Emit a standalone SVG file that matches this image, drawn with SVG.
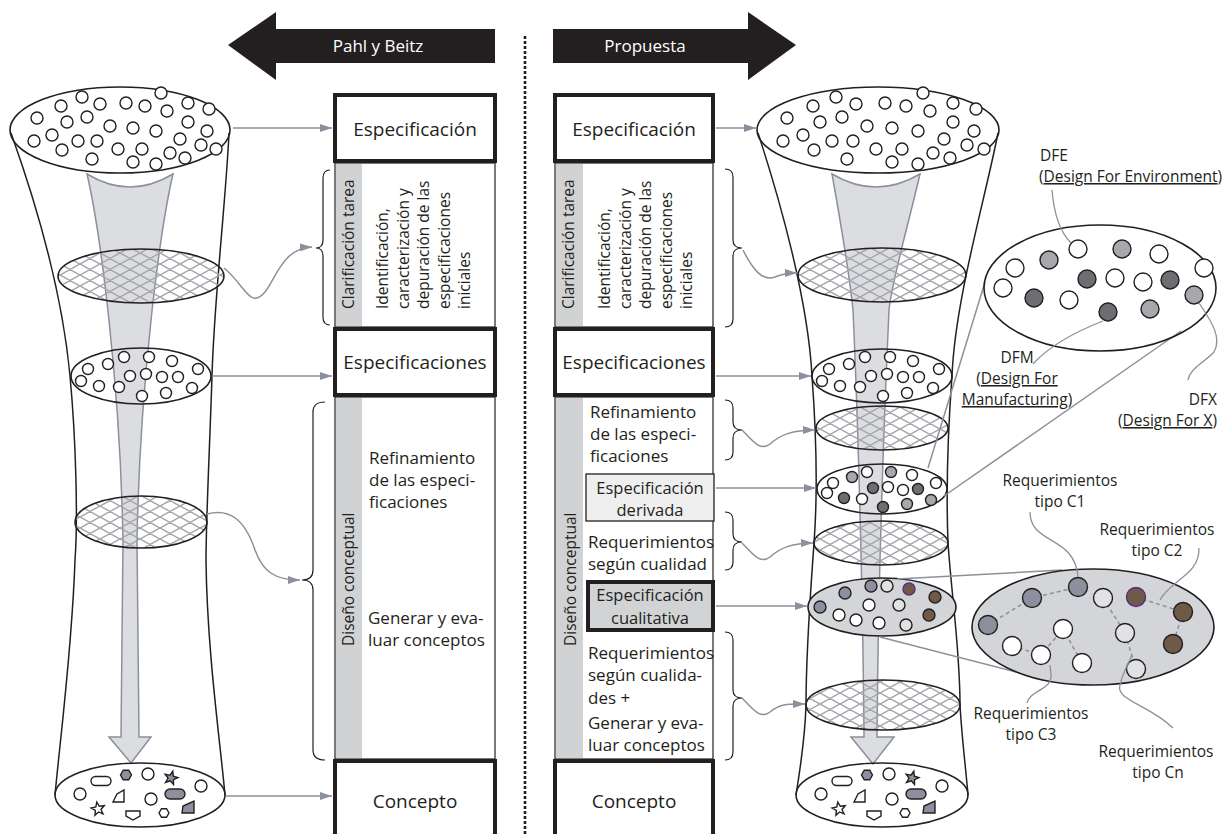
<svg xmlns="http://www.w3.org/2000/svg" xmlns:xlink="http://www.w3.org/1999/xlink" width="1224" height="834" viewBox="0 0 1224 834">
<style>
text{font-family:"Open Sans","Noto Sans","Liberation Sans",sans-serif;fill:#231f20}
.t18{font-size:19px}
.t17{font-size:17px}
.t16{font-size:16.5px}
.t15{font-size:15.5px}
.mid{text-anchor:middle}
.end{text-anchor:end}
.c{fill:#fff;stroke:#231f20;stroke-width:1.4}
.cg{fill:#a7a8ac;stroke:#231f20;stroke-width:1.4}
.cd{fill:#6d6e72;stroke:#231f20;stroke-width:1.4}
.cb{fill:#8c909e;stroke:#231f20;stroke-width:1.4}
.cl{fill:#e1e2e4;stroke:#231f20;stroke-width:1.4}
.cr{fill:#6e5a47;stroke:#231f20;stroke-width:1.4}
.el{fill:none;stroke:#231f20;stroke-width:1.6}
.mesh{fill:url(#mesh);stroke:#231f20;stroke-width:1.6}
.side{fill:none;stroke:#231f20;stroke-width:1.5}
.garrow{fill:#dcdde1;stroke:#8c909c;stroke-width:1.5}
.con{fill:none;stroke:#8c909c;stroke-width:1.5}
.lead{fill:none;stroke:#8c909c;stroke-width:1.3}
.brace{fill:none;stroke:#231f20;stroke-width:1.2}
.thick{fill:#fff;stroke:#231f20;stroke-width:4}
.thin{fill:#fff;stroke:#231f20;stroke-width:1.2}
.strip{fill:#d1d2d4}
.dash{fill:none;stroke:#8c909c;stroke-width:1.5;stroke-dasharray:4 3}
.tc circle{fill:#fff;stroke:#231f20;stroke-width:1.4}
</style>
<defs>
<pattern id="mesh" width="10" height="10" patternUnits="userSpaceOnUse" patternTransform="scale(2.0,1.1)">
<path d="M0,0L10,10M10,0L0,10M-2,8L2,12M8,-2L12,2M-2,2L2,-2M8,12L12,8" stroke="#a3a5ab" stroke-width="1.1" fill="none"/>
</pattern>
<marker id="ah" viewBox="0 0 12 8" refX="12" refY="4" markerWidth="12" markerHeight="8" markerUnits="userSpaceOnUse" orient="auto">
<path d="M0,0L12,4L0,8z" fill="#8c909c"/>
</marker>
<path id="star" d="M0,-7L1.76,-2.43L6.66,-2.16L2.85,0.93L4.11,5.66L0,3L-4.11,5.66L-2.85,0.93L-6.66,-2.16L-1.76,-2.43Z"/>
<g id="specCircles">
<circle class="c" cx="88" cy="369" r="5.5"/><circle class="c" cx="108" cy="364" r="5.5"/><circle class="c" cx="124" cy="357" r="5.5"/><circle class="c" cx="149" cy="357" r="5.5"/><circle class="c" cx="172" cy="361" r="5.5"/><circle class="c" cx="198" cy="369" r="5.5"/>
<circle class="c" cx="81" cy="381" r="5.5"/><circle class="c" cx="99" cy="386" r="5.5"/><circle class="c" cx="119" cy="387" r="5.5"/><circle class="c" cx="130" cy="376" r="5.5"/><circle class="c" cx="146" cy="374" r="5.5"/><circle class="c" cx="162" cy="377" r="5.5"/><circle class="c" cx="178" cy="377" r="5.5"/><circle class="c" cx="192" cy="388" r="5.5"/><circle class="c" cx="142" cy="396" r="5.5"/><circle class="c" cx="166" cy="393" r="5.5"/>
</g>
<g id="bottomShapes">
<rect class="c" x="91" y="776.5" width="20" height="9" rx="4.5"/>
<path class="cb" transform="translate(126,775)" d="M5.5,0L2.75,4.76L-2.75,4.76L-5.5,0L-2.75,-4.76L2.75,-4.76Z"/>
<circle class="c" cx="148" cy="774" r="6"/>
<use href="#star" class="cb" transform="translate(171,778) rotate(15)"/>
<circle class="c" cx="201" cy="786" r="6"/>
<circle class="c" cx="80" cy="794" r="6"/>
<path class="c" d="M113,802L117,794L124,790L124,802Z"/>
<circle class="c" cx="151" cy="799" r="6"/>
<rect class="cb" x="165" y="789" width="20" height="10" rx="5"/>
<use href="#star" class="c" transform="translate(98,809) rotate(-10)"/>
<path class="c" d="M126,811L140,811L140,816L133,820L126,816Z"/>
<path class="c" transform="translate(164,813)" d="M5,0L2.5,4.3L-2.5,4.3L-5,0L-2.5,-4.3L2.5,-4.3Z"/>
<path class="cb" d="M182,813L183,806L194,801L194,813Z"/>
</g>
</defs>
<rect width="1224" height="834" fill="#fff"/>

<g id="arrow-pahl">
<polygon points="228,45 276,12 276,29 495,29 495,63 276,63 276,80" fill="#231f20"/>
<text class="t17 mid" x="378" y="52" style="fill:#fff">Pahl y Beitz</text>
</g>
<g id="arrow-propuesta">
<polygon points="553,29 748,29 748,12 796,45 748,80 748,63 553,63" fill="#231f20"/>
<text class="t17 mid" x="645" y="52" style="fill:#fff">Propuesta</text>
</g>
<g id="divider">
<line x1="525" y1="36" x2="525" y2="834" stroke="#231f20" stroke-width="2.6" stroke-dasharray="3 2"/>
</g>

<g id="funnel-left">
<path class="side" d="M11,133 C35,200 62,290 70,376 C76,440 78,520 75,560 C72,650 60,740 55,795"/>
<path class="side" d="M229,133 C226,200 214,300 212,376 C210,440 206,520 206,560 C207,650 220,740 225,795"/>
<path class="garrow" d="M87,174 Q130,200 173,174 C160,230 140,380 137,540 L139,737 L151,737 L131,763 L109,737 L121,737 L123,540 C120,380 100,230 87,174Z"/>
<ellipse class="el" cx="120" cy="130" rx="110" ry="43"/>
<g id="topCirclesL" class="tc">
<circle cx="82" cy="97" r="6"/><circle cx="61" cy="106" r="6"/><circle cx="100" cy="104" r="6"/><circle cx="126" cy="103" r="6"/><circle cx="145" cy="106" r="6"/><circle cx="161" cy="93" r="6"/><circle cx="167" cy="111" r="6"/><circle cx="188" cy="103" r="6"/><circle cx="209" cy="109" r="6"/>
<circle cx="37" cy="118" r="6"/><circle cx="67" cy="122" r="6"/><circle cx="87" cy="117" r="6"/><circle cx="110" cy="126" r="6"/><circle cx="133" cy="128" r="6"/><circle cx="156" cy="131" r="6"/><circle cx="188" cy="122" r="6"/><circle cx="207" cy="131" r="6"/>
<circle cx="34" cy="141" r="6"/><circle cx="52" cy="135" r="6"/><circle cx="78" cy="141" r="6"/><circle cx="97" cy="141" r="6"/><circle cx="118" cy="149" r="6"/><circle cx="142" cy="149" r="6"/><circle cx="170" cy="153" r="6"/><circle cx="180" cy="139" r="6"/><circle cx="201" cy="145" r="6"/><circle cx="216" cy="149" r="6"/>
<circle cx="62" cy="150" r="6"/><circle cx="92" cy="159" r="6"/><circle cx="133" cy="162" r="6"/><circle cx="156" cy="164" r="6"/><circle cx="185" cy="158" r="6"/>
</g>
<ellipse class="mesh" cx="141" cy="276" rx="83" ry="27"/>
<ellipse class="el" cx="141" cy="376" rx="70" ry="28"/>
<use href="#specCircles"/>
<ellipse class="mesh" cx="141" cy="522" rx="66" ry="26"/>
<ellipse class="el" cx="140" cy="795" rx="85" ry="32"/>
<use href="#bottomShapes"/>
</g>

<g id="funnel-right">
<path class="side" d="M758,133 C780,200 808,300 812,376 C816,430 818,490 814,543 C810,600 806,650 806,705 C805,740 800,770 796,795"/>
<path class="side" d="M998,133 C985,200 955,300 952,376 C948,430 946,490 948,543 C952,600 960,650 960,705 C962,740 966,770 968,795"/>
<path class="garrow" d="M832,174 Q876,200 920,174 C907,230 892,280 889,310 C884,420 878,600 877,737 L894,737 L873,764 L851,737 L864,737 C863,600 858,420 853,310 C850,280 842,230 832,174Z"/>
<ellipse class="el" cx="878" cy="130" rx="121" ry="43"/>
<g id="topCirclesR" class="tc">
<circle cx="836" cy="97" r="6"/><circle cx="813" cy="106" r="6"/><circle cx="856" cy="104" r="6"/><circle cx="885" cy="103" r="6"/><circle cx="906" cy="106" r="6"/><circle cx="923" cy="93" r="6"/><circle cx="930" cy="111" r="6"/><circle cx="953" cy="103" r="6"/><circle cx="976" cy="109" r="6"/>
<circle cx="787" cy="118" r="6"/><circle cx="820" cy="122" r="6"/><circle cx="842" cy="117" r="6"/><circle cx="867" cy="126" r="6"/><circle cx="892" cy="128" r="6"/><circle cx="918" cy="131" r="6"/><circle cx="953" cy="122" r="6"/><circle cx="974" cy="131" r="6"/>
<circle cx="783" cy="141" r="6"/><circle cx="803" cy="135" r="6"/><circle cx="832" cy="141" r="6"/><circle cx="853" cy="141" r="6"/><circle cx="876" cy="149" r="6"/><circle cx="902" cy="149" r="6"/><circle cx="933" cy="153" r="6"/><circle cx="944" cy="139" r="6"/><circle cx="967" cy="145" r="6"/><circle cx="984" cy="149" r="6"/>
<circle cx="814" cy="150" r="6"/><circle cx="847" cy="159" r="6"/><circle cx="892" cy="162" r="6"/><circle cx="918" cy="164" r="6"/><circle cx="950" cy="158" r="6"/>
</g>
<ellipse class="mesh" cx="882" cy="275" rx="84" ry="27"/>
<ellipse class="el" cx="882" cy="376" rx="70" ry="27"/>
<use href="#specCircles" transform="translate(741,0)"/>
<ellipse class="mesh" cx="882" cy="428" rx="66" ry="22"/>
<ellipse class="el" cx="882" cy="489" rx="65" ry="25"/>
<circle class="c" cx="833" cy="483" r="5.5"/><circle class="cg" cx="852" cy="477" r="5.5"/><circle class="c" cx="867" cy="472" r="5.5"/><circle class="cg" cx="891" cy="472" r="5.5"/><circle class="c" cx="912" cy="475" r="5.5"/><circle class="c" cx="936" cy="483" r="5.5"/>
<circle class="c" cx="827" cy="493" r="5.5"/><circle class="cd" cx="844" cy="498" r="5.5"/><circle class="c" cx="862" cy="499" r="5.5"/><circle class="cd" cx="873" cy="488" r="5.5"/><circle class="c" cx="888" cy="487" r="5.5"/><circle class="c" cx="903" cy="490" r="5.5"/><circle class="cd" cx="918" cy="489" r="5.5"/><circle class="cg" cx="931" cy="500" r="5.5"/><circle class="cd" cx="883" cy="507" r="5.5"/><circle class="cg" cx="907" cy="504" r="5.5"/>
<ellipse class="mesh" cx="881" cy="543" rx="67" ry="22"/>
<ellipse cx="882" cy="607" rx="74" ry="29" fill="#d4d5d8" stroke="#231f20" stroke-width="1.6"/>
<circle class="cb" cx="845" cy="593" r="6"/><circle class="cb" cx="871" cy="586" r="6"/><circle class="cl" cx="887" cy="586" r="6"/><circle class="cr" cx="909" cy="589" r="6" style="stroke:#5b2c83"/><circle class="cr" cx="935" cy="597" r="6"/>
<circle class="cb" cx="820" cy="607" r="6"/><circle class="c" cx="869" cy="605" r="6"/><circle class="cl" cx="899" cy="605" r="6"/><circle class="cr" cx="929" cy="615" r="6"/>
<circle class="c" cx="839" cy="615" r="6"/><circle class="c" cx="856" cy="620" r="6"/><circle class="c" cx="879" cy="623" r="6"/><circle class="cl" cx="906" cy="625" r="6"/>
<ellipse class="mesh" cx="883" cy="705" rx="77" ry="25"/>
<ellipse class="el" cx="882" cy="795" rx="86" ry="32"/>
<use href="#bottomShapes" transform="translate(741,0)"/>
</g>

<g id="col-left">
<g id="l-especificacion"><rect class="thick" x="335" y="95" width="160" height="66"/><text class="t18 mid" x="415" y="136">Especificación</text></g>
<g id="l-clarificacion">
<rect class="thin" x="335" y="163" width="160" height="164"/><rect class="strip" x="336" y="164" width="26" height="162"/>
<text class="t15" transform="translate(354,309) rotate(-90)">Clarificación tarea</text>
<text class="t15" transform="translate(388,309) rotate(-90)">Identificación,</text>
<text class="t15" transform="translate(409,309) rotate(-90)">caracterización y</text>
<text class="t15" transform="translate(429,309) rotate(-90)">depuración de las</text>
<text class="t15" transform="translate(450,309) rotate(-90)">especificaciones</text>
<text class="t15" transform="translate(470,309) rotate(-90)">iniciales</text>
</g>
<g id="l-especificaciones"><rect class="thick" x="335" y="329" width="160" height="66"/><text class="t18 mid" x="415" y="369">Especificaciones</text></g>
<g id="l-diseno">
<rect class="thin" x="335" y="397" width="160" height="362"/><rect class="strip" x="336" y="398" width="26" height="360"/>
<text class="t15" transform="translate(354,646) rotate(-90)">Diseño conceptual</text>
<text class="t17" x="369" y="464">Refinamiento</text>
<text class="t17" x="369" y="486">de las especi-</text>
<text class="t17" x="369" y="508">ficaciones</text>
<text class="t17" x="368" y="624">Generar y eva-</text>
<text class="t17" x="368" y="646">luar conceptos</text>
</g>
<g id="l-concepto"><rect class="thick" x="335" y="761" width="160" height="80"/><text class="t18 mid" x="415" y="808">Concepto</text></g>
</g>

<g id="col-right">
<g id="r-especificacion"><rect class="thick" x="555" y="95" width="158" height="66"/><text class="t18 mid" x="634" y="136">Especificación</text></g>
<g id="r-clarificacion">
<rect class="thin" x="555" y="163" width="158" height="164"/><rect class="strip" x="556" y="164" width="27" height="162"/>
<text class="t15" transform="translate(574,309) rotate(-90)">Clarificación tarea</text>
<text class="t15" transform="translate(610,309) rotate(-90)">Identificación,</text>
<text class="t15" transform="translate(631,309) rotate(-90)">caracterización y</text>
<text class="t15" transform="translate(651,309) rotate(-90)">depuración de las</text>
<text class="t15" transform="translate(672,309) rotate(-90)">especificaciones</text>
<text class="t15" transform="translate(692,309) rotate(-90)">iniciales</text>
</g>
<g id="r-especificaciones"><rect class="thick" x="555" y="329" width="158" height="66"/><text class="t18 mid" x="634" y="369">Especificaciones</text></g>
<g id="r-diseno">
<rect class="thin" x="555" y="397" width="158" height="362"/><rect class="strip" x="556" y="398" width="27" height="360"/>
<text class="t15" transform="translate(576,646) rotate(-90)">Diseño conceptual</text>
<text class="t17" x="590" y="418">Refinamiento</text>
<text class="t17" x="590" y="440">de las especi-</text>
<text class="t17" x="590" y="462">ficaciones</text>
<text class="t17" x="588" y="548">Requerimientos</text>
<text class="t17" x="588" y="570">según cualidad</text>
<text class="t17" x="588" y="659">Requerimientos</text>
<text class="t17" x="588" y="681">según cualida-</text>
<text class="t17" x="588" y="704">des  +</text>
<text class="t17" x="588" y="729">Generar y eva-</text>
<text class="t17" x="588" y="751">luar conceptos</text>
</g>
<g id="r-derivada"><rect x="586" y="474" width="128" height="47" fill="#efeff0" stroke="#231f20" stroke-width="1.3"/><text class="t16 mid" x="650" y="494">Especificación</text><text class="t16 mid" x="650" y="516">derivada</text></g>
<g id="r-cualitativa"><rect x="588" y="582" width="125" height="48" fill="#d2d3d5" stroke="#231f20" stroke-width="4"/><text class="t16 mid" x="650" y="601">Especificación</text><text class="t16 mid" x="650" y="624">cualitativa</text></g>
<g id="r-concepto"><rect class="thick" x="555" y="761" width="158" height="80"/><text class="t18 mid" x="634" y="808">Concepto</text></g>
</g>

<g id="braces">
<path class="brace" d="M330,170 Q323,170 323,178 L323,240 Q323,248 316,248 Q323,248 323,256 L323,317 Q323,325 330,325"/>
<path class="brace" d="M325,402 Q313,402 313,412 L313,570 Q313,580 302,580 Q313,580 313,590 L313,750 Q313,760 325,760"/>
<path class="brace" d="M725,169 Q733,169 733,177 L733,240 Q733,248 742,248 Q733,248 733,256 L733,319 Q733,327 725,327"/>
<path class="brace" d="M725,400 Q733,400 733,408 L733,422 Q733,430 742,430 Q733,430 733,438 L733,452 Q733,460 725,460"/>
<path class="brace" d="M725,512 Q733,512 733,520 L733,534 Q733,542 742,542 Q733,542 733,550 L733,562 Q733,570 725,570"/>
<path class="brace" d="M725,632 Q733,632 733,640 L733,690 Q733,698 742,698 Q733,698 733,706 L733,752 Q733,760 725,760"/>
</g>

<g id="connectors">
<path class="con" marker-end="url(#ah)" d="M233,128 L332,128"/>
<path class="con" marker-end="url(#ah)" d="M212,376 L332,376"/>
<path class="con" marker-end="url(#ah)" d="M226,796 L332,796"/>
<path class="con" marker-end="url(#ah)" d="M224,268 C245,285 250,310 265,292 C276,278 283,248 312,247"/>
<path class="con" marker-end="url(#ah)" d="M207,514 C230,508 245,520 255,550 C263,572 275,580 300,580"/>
<path class="con" marker-end="url(#ah)" d="M716,128 L756,128"/>
<path class="con" marker-end="url(#ah)" d="M743,250 C752,268 762,282 775,277 C782,274 788,273 797,273"/>
<path class="con" marker-end="url(#ah)" d="M716,376 L811,376"/>
<path class="con" marker-end="url(#ah)" d="M742,430 C752,440 760,452 770,444 C780,435 792,430 815,430"/>
<path class="con" marker-end="url(#ah)" d="M716,488 L816,488"/>
<path class="con" marker-end="url(#ah)" d="M742,543 C752,553 760,565 770,557 C780,548 792,543 813,543"/>
<path class="con" marker-end="url(#ah)" d="M716,606 L807,606"/>
<path class="con" marker-end="url(#ah)" d="M742,698 C752,708 760,720 770,712 C780,703 790,704 805,704"/>
<path class="con" d="M928,468 L985,282"/>
<path class="con" d="M944,496 L1181,331"/>
<path class="con" d="M897,579 L1062,570"/>
<path class="con" d="M880,637 L1020,673"/>
</g>

<g id="dfx-detail">
<ellipse class="el" cx="1100" cy="288" rx="116" ry="63"/>
<circle class="c" cx="1078" cy="249" r="9"/><circle class="cg" cx="1122" cy="249" r="9"/><circle class="c" cx="1159" cy="254" r="9"/><circle class="c" cx="1204" cy="268" r="9"/>
<circle class="cg" cx="1049" cy="260" r="9"/><circle class="c" cx="1015" cy="268" r="9"/><circle class="c" cx="1003" cy="288" r="9"/><circle class="cd" cx="1034" cy="298" r="9"/>
<circle class="c" cx="1069" cy="300" r="9"/><circle class="cd" cx="1087" cy="279" r="9"/><circle class="c" cx="1115" cy="278" r="9"/><circle class="c" cx="1143" cy="282" r="9"/>
<circle class="cd" cx="1170" cy="280" r="9"/><circle class="cg" cx="1194" cy="295" r="9"/><circle class="cd" cx="1108" cy="312" r="9"/><circle class="cg" cx="1150" cy="309" r="9"/>
<text class="t15" x="1040" y="161">DFE</text>
<text class="t15" x="1039" y="182">(<tspan text-decoration="underline">Design For Environment</tspan>)</text>
<text class="t15 mid" x="1017" y="363">DFM</text>
<text class="t15 mid" x="1017" y="384">(<tspan text-decoration="underline">Design For </tspan></text>
<text class="t15 mid" x="1017" y="405"><tspan text-decoration="underline">Manufacturing</tspan>)</text>
<text class="t15 end" x="1217" y="405">DFX</text>
<text class="t15 end" x="1217" y="426">(<tspan text-decoration="underline">Design For X</tspan>)</text>
<path class="lead" d="M1052,190 C1054,215 1060,232 1071,243"/>
<path class="lead" d="M1033,364 C1050,345 1080,330 1103,321"/>
<path class="lead" d="M1199,303 C1212,322 1222,338 1214,352 C1205,362 1190,368 1188,380"/>
</g>

<g id="c-detail">
<ellipse cx="1093" cy="627" rx="121" ry="58" fill="#d4d5d8" stroke="#231f20" stroke-width="1.6"/>
<path class="dash" d="M988,625 L1032,598 L1078,587 M1136,597 L1183,612 L1173,644 M1103,598 L1125,633 L1136,669 M1012,646 L1041,655 L1063,629 L1082,663"/>
<circle class="cb" cx="1078" cy="587" r="9.5"/><circle class="cb" cx="1032" cy="598" r="9.5"/><circle class="cb" cx="988" cy="625" r="9.5"/>
<circle class="cl" cx="1103" cy="598" r="9.5"/><circle class="cr" cx="1136" cy="597" r="9.5" style="stroke:#5b2c83"/><circle class="cr" cx="1183" cy="612" r="9.5"/><circle class="cr" cx="1173" cy="644" r="9.5"/>
<circle class="c" cx="1063" cy="629" r="9.5"/><circle class="c" cx="1012" cy="646" r="9.5"/><circle class="c" cx="1041" cy="655" r="9.5"/><circle class="c" cx="1082" cy="663" r="9.5"/>
<circle class="cl" cx="1125" cy="633" r="9.5"/><circle class="cl" cx="1136" cy="669" r="9.5"/>
<text class="t15 mid" x="1060" y="486">Requerimientos</text><text class="t15 mid" x="1060" y="507">tipo C1</text>
<text class="t15 mid" x="1157" y="535">Requerimientos</text><text class="t15 mid" x="1157" y="556">tipo C2</text>
<text class="t15 mid" x="1031" y="719">Requerimientos</text><text class="t15 mid" x="1031" y="740">tipo C3</text>
<text class="t15 mid" x="1156" y="757">Requerimientos</text><text class="t15 mid" x="1158" y="778">tipo Cn</text>
<path class="lead" d="M1030,512 C1030,545 1075,535 1078,577"/>
<path class="lead" d="M1199,548 C1200,575 1170,580 1160,600"/>
<path class="lead" d="M1027,703 C1030,690 1052,690 1051,675 L1050,665"/>
<path class="lead" d="M1173,728 C1150,705 1115,700 1120,685 C1123,672 1128,665 1132,655"/>
</g>
</svg>
